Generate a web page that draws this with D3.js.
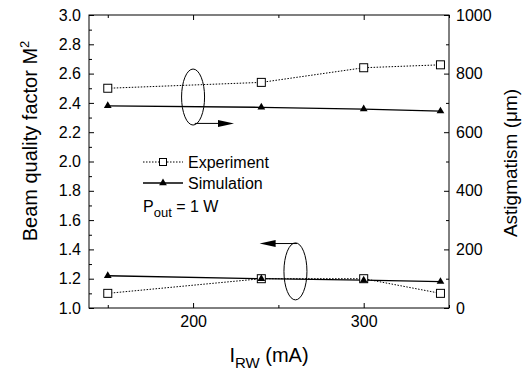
<!DOCTYPE html>
<html>
<head>
<meta charset="utf-8">
<script src="https://cdn.jsdelivr.net/npm/d3@7"></script>
<style>
  body { margin: 0; background: #fff; }
  svg { font-family: "Liberation Sans", Arial, sans-serif; }
</style>
</head>
<body>
<div id="chart"></div>
<script>
// data
const currents = [150, 240, 300, 345];          // I_RW (mA)
const expM2 = [1.10, 1.20, 1.20, 1.10];          // experiment, beam quality M^2
const simM2 = [1.22, 1.20, 1.19, 1.18];          // simulation, M^2
const expAstig = [750, 770, 820, 830];           // experiment, astigmatism (um)
const simAstig = [690, 685, 679, 672];           // simulation, astigmatism (um)

const xTicks = [200, 300];
const xMinor = [150, 250, 350];
const m2Ticks = [1.0, 1.2, 1.4, 1.6, 1.8, 2.0, 2.2, 2.4, 2.6, 2.8, 3.0];
const m2Minor = [1.1, 1.3, 1.5, 1.7, 1.9, 2.1, 2.3, 2.5, 2.7, 2.9];
const astTicks = [0, 200, 400, 600, 800, 1000];
const astMinor = [100, 300, 500, 700, 900];

const width = 524, height = 373;
const margin = {top: 15, right: 75, bottom: 65, left: 89};
const w = width - margin.left - margin.right;
const h = height - margin.top - margin.bottom;

const svg = d3.select("#chart").append("svg")
    .attr("width", width)
    .attr("height", height);

const g = svg.append("g")
    .attr("transform", `translate(${margin.left},${margin.top})`);

const x = d3.scaleLinear().domain([139, 350]).range([0, w]);
const yL = d3.scaleLinear().domain([1.0, 3.0]).range([h, 0]);
const yR = d3.scaleLinear().domain([0, 1000]).range([h, 0]);

// axes, ticks pointing inward
function styleAxis(sel) {
    sel.select(".domain").remove();
    sel.selectAll("line").attr("stroke", "#000").attr("stroke-width", 1);
    sel.selectAll("text").attr("fill", "#000").style("font-size", "16px");
}

g.append("g").attr("transform", `translate(0,${h})`)
    .call(d3.axisBottom(x).tickValues(xTicks).tickSize(-5).tickPadding(8).tickFormat(d3.format("d")))
    .call(styleAxis);
g.append("g").attr("transform", `translate(0,${h})`)
    .call(d3.axisBottom(x).tickValues(xMinor).tickSize(-3).tickFormat(""))
    .call(styleAxis);
g.append("g")
    .call(d3.axisTop(x).tickValues(xTicks).tickSize(-5).tickFormat(""))
    .call(styleAxis);
g.append("g")
    .call(d3.axisTop(x).tickValues(xMinor).tickSize(-3).tickFormat(""))
    .call(styleAxis);

g.append("g")
    .call(d3.axisLeft(yL).tickValues(m2Ticks).tickSize(-5).tickPadding(8).tickFormat(d3.format(".1f")))
    .call(styleAxis);
g.append("g")
    .call(d3.axisLeft(yL).tickValues(m2Minor).tickSize(-3).tickFormat(""))
    .call(styleAxis);

g.append("g").attr("transform", `translate(${w},0)`)
    .call(d3.axisRight(yR).tickValues(astTicks).tickSize(-5).tickPadding(7).tickFormat(d3.format("d")))
    .call(styleAxis);
g.append("g").attr("transform", `translate(${w},0)`)
    .call(d3.axisRight(yR).tickValues(astMinor).tickSize(-3).tickFormat(""))
    .call(styleAxis);

g.append("rect")
    .attr("width", w).attr("height", h)
    .attr("fill", "none").attr("stroke", "#000").attr("stroke-width", 1);

// series
const series = [
    {vals: expAstig, y: yR, kind: "exp"},
    {vals: simAstig, y: yR, kind: "sim"},
    {vals: expM2, y: yL, kind: "exp"},
    {vals: simM2, y: yL, kind: "sim"}
];

series.forEach(s => {
    const pts = currents.map((c, i) => [x(c), s.y(s.vals[i])]);
    g.append("path")
        .attr("d", d3.line()(pts))
        .attr("fill", "none")
        .attr("stroke", "#000")
        .attr("stroke-width", s.kind == "exp" ? 1 : 1.3)
        .attr("stroke-dasharray", s.kind == "exp" ? "1.5,1.5" : null);
});

function square(sel, cx, cy, size) {
    sel.append("rect")
        .attr("x", cx - size / 2).attr("y", cy - size / 2)
        .attr("width", size).attr("height", size)
        .attr("fill", "#fff").attr("stroke", "#000").attr("stroke-width", 1);
}
function triangle(sel, cx, cy) {
    sel.append("path")
        .attr("transform", `translate(${cx},${cy})`)
        .attr("d", d3.symbol(d3.symbolTriangle, 26)())
        .attr("fill", "#000");
}

series.filter(s => s.kind == "exp").forEach(s => {
    currents.forEach((c, i) => square(g, x(c), s.y(s.vals[i]), 8));
});
series.filter(s => s.kind == "sim").forEach(s => {
    currents.forEach((c, i) => triangle(g, x(c), s.y(s.vals[i])));
});

// ellipses with arrows telling which axis each pair belongs to
function arrow(sel, x1, x2, y) {
    const dir = x2 > x1 ? 1 : -1;
    sel.append("line")
        .attr("x1", x1).attr("x2", x2 - dir * 10).attr("y1", y).attr("y2", y)
        .attr("stroke", "#000").attr("stroke-width", 1);
    sel.append("path")
        .attr("d", `M${x2},${y} L${x2 - dir * 16},${y - 3.5} L${x2 - dir * 16},${y + 3.5} Z`)
        .attr("fill", "#000");
}

g.append("ellipse")
    .attr("cx", x(200)).attr("cy", yL(2.44))
    .attr("rx", 11.5).attr("ry", 28)
    .attr("fill", "none").attr("stroke", "#000").attr("stroke-width", 1);
arrow(g, x(201), x(224), yL(2.26));

g.append("ellipse")
    .attr("cx", x(260)).attr("cy", yL(1.25))
    .attr("rx", 11.5).attr("ry", 28.5)
    .attr("fill", "none").attr("stroke", "#000").attr("stroke-width", 1);
arrow(g, x(261), x(239), yL(1.44));

// legend
const leg = svg.append("g").attr("transform", "translate(143,162)");
leg.append("line").attr("x1", 0).attr("x2", 40).attr("y1", 0).attr("y2", 0)
    .attr("stroke", "#000").attr("stroke-dasharray", "1.5,1.5");
square(leg, 20, 0, 7);
leg.append("text").attr("x", 45).attr("y", 6).style("font-size", "16px").text("Experiment");

leg.append("line").attr("x1", 0).attr("x2", 40).attr("y1", 21).attr("y2", 21)
    .attr("stroke", "#000").attr("stroke-width", 1.3);
triangle(leg, 20, 21);
leg.append("text").attr("x", 45).attr("y", 27).style("font-size", "16px").text("Simulation");

const pout = leg.append("text").attr("x", 0).attr("y", 50).style("font-size", "16px");
pout.append("tspan").text("P");
pout.append("tspan").attr("dy", 5).style("font-size", "13px").text("out");
pout.append("tspan").attr("dy", -5).text(" = 1 W");

// axis titles
const yTitle = svg.append("text")
    .attr("transform", "translate(37,141) rotate(-90)")
    .attr("text-anchor", "middle")
    .style("font-size", "20px");
yTitle.append("tspan").text("Beam quality factor M");
yTitle.append("tspan").attr("dy", -8).style("font-size", "13px").text("2");

svg.append("text")
    .attr("transform", "translate(517,163) rotate(-90)")
    .attr("text-anchor", "middle")
    .style("font-size", "19px")
    .text("Astigmatism (\u03bcm)");

const xTitle = svg.append("text")
    .attr("x", 269).attr("y", 362)
    .attr("text-anchor", "middle")
    .style("font-size", "20px");
xTitle.append("tspan").text("I");
xTitle.append("tspan").attr("dy", 6).style("font-size", "15px").text("RW");
xTitle.append("tspan").attr("dy", -6).text(" (mA)");
</script>
</body>
</html>
